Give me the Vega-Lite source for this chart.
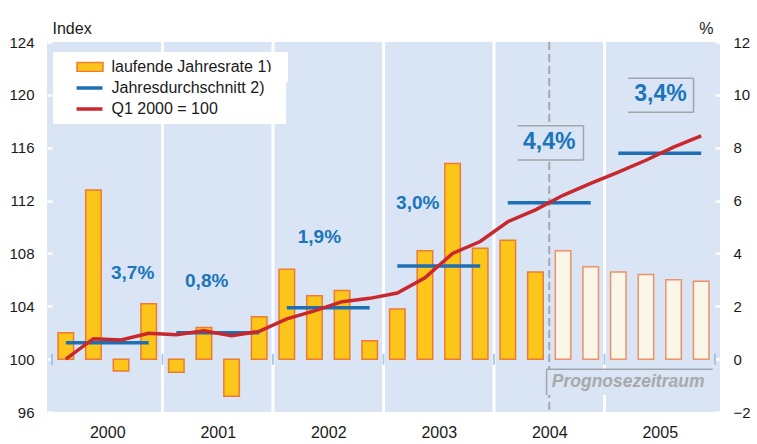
{
  "$schema": "https://vega.github.io/schema/vega-lite/v6.json",
  "width": 673,
  "height": 370,
  "autosize": {"type": "none"},
  "padding": {"left": 47, "top": 42, "right": 37, "bottom": 32},
  "config": {
    "font": "Liberation Sans",
    "view": {"stroke": null, "fill": "#d9e4f4"}
  },
  "datasets": {
    "quarters": [
      {"t": 2000.125, "rate": 1.0, "idx": 100.0, "fc": false},
      {"t": 2000.375, "rate": 6.4, "idx": 101.55, "fc": false},
      {"t": 2000.625, "rate": -0.45, "idx": 101.45, "fc": false},
      {"t": 2000.875, "rate": 2.1, "idx": 101.95, "fc": false},
      {"t": 2001.125, "rate": -0.5, "idx": 101.85, "fc": false},
      {"t": 2001.375, "rate": 1.2, "idx": 102.15, "fc": false},
      {"t": 2001.625, "rate": -1.4, "idx": 101.77, "fc": false},
      {"t": 2001.875, "rate": 1.6, "idx": 102.1, "fc": false},
      {"t": 2002.125, "rate": 3.4, "idx": 103.05, "fc": false},
      {"t": 2002.375, "rate": 2.4, "idx": 103.65, "fc": false},
      {"t": 2002.625, "rate": 2.6, "idx": 104.35, "fc": false},
      {"t": 2002.875, "rate": 0.7, "idx": 104.6, "fc": false},
      {"t": 2003.125, "rate": 1.9, "idx": 105.0, "fc": false},
      {"t": 2003.375, "rate": 4.1, "idx": 106.15, "fc": false},
      {"t": 2003.625, "rate": 7.4, "idx": 108.0, "fc": false},
      {"t": 2003.875, "rate": 4.2, "idx": 108.9, "fc": false},
      {"t": 2004.125, "rate": 4.5, "idx": 110.4, "fc": false},
      {"t": 2004.375, "rate": 3.3, "idx": 111.3, "fc": false},
      {"t": 2004.625, "rate": 4.1, "idx": 112.4, "fc": true},
      {"t": 2004.875, "rate": 3.5, "idx": 113.3, "fc": true},
      {"t": 2005.125, "rate": 3.3, "idx": 114.16, "fc": true},
      {"t": 2005.375, "rate": 3.2, "idx": 115.05, "fc": true},
      {"t": 2005.625, "rate": 3.0, "idx": 116.05, "fc": true},
      {"t": 2005.875, "rate": 2.95, "idx": 116.9, "fc": true}
    ],
    "years": [
      {"year": 2000, "avg": 101.24},
      {"year": 2001, "avg": 102.0},
      {"year": 2002, "avg": 103.89},
      {"year": 2003, "avg": 107.05},
      {"year": 2004, "avg": 111.84},
      {"year": 2005, "avg": 115.58}
    ],
    "boundaries": [
      {"b": 2001}, {"b": 2002}, {"b": 2003}, {"b": 2004}, {"b": 2005}
    ],
    "edges": [
      {"b": 2000}, {"b": 2001}, {"b": 2002}, {"b": 2003}, {"b": 2004}, {"b": 2005}, {"b": 2006}
    ],
    "boxes": [
      {"x1": 2004.214, "x2": 2004.81, "y1": 115.07, "y2": 117.67},
      {"x1": 2005.214, "x2": 2005.806, "y1": 118.68, "y2": 121.26},
      {"x1": 2004.476, "x2": 2005.98, "y1": 97.28, "y2": 99.23}
    ],
    "borders": [
      {"x1": 2004.214, "x2": 2004.81, "y1": 117.67, "y2": 117.67},
      {"x1": 2004.81, "x2": 2004.81, "y1": 117.67, "y2": 115.07},
      {"x1": 2004.214, "x2": 2004.81, "y1": 115.07, "y2": 115.07},
      {"x1": 2005.214, "x2": 2005.806, "y1": 121.26, "y2": 121.26},
      {"x1": 2005.806, "x2": 2005.806, "y1": 121.26, "y2": 118.68},
      {"x1": 2005.214, "x2": 2005.806, "y1": 118.68, "y2": 118.68},
      {"x1": 2004.476, "x2": 2005.98, "y1": 99.23, "y2": 99.23},
      {"x1": 2004.476, "x2": 2004.476, "y1": 99.23, "y2": 97.28}
    ],
    "smallLabels": [
      {"label": "3,7%", "x": 2000.73, "y": 106.54},
      {"label": "0,8%", "x": 2001.4, "y": 105.93},
      {"label": "1,9%", "x": 2002.42, "y": 109.22},
      {"label": "3,0%", "x": 2003.31, "y": 111.79}
    ],
    "bigLabels": [
      {"label": "4,4%", "x": 2004.5, "y": 116.4},
      {"label": "3,4%", "x": 2005.506, "y": 120.05}
    ],
    "note": [
      {"label": "Prognosezeitraum", "x": 2005.214, "y": 98.29}
    ]
  },
  "layer": [
    {
      "layer": [
        {
          "data": {"name": "boundaries"},
          "mark": {"type": "rule", "color": "white", "strokeWidth": 3},
          "encoding": {
            "x": {"field": "b", "type": "quantitative", "scale": {"domain": [2000, 2006], "nice": false, "zero": false}}
          }
        },
        {
          "data": {"values": [{"b": 2004.5}]},
          "mark": {"type": "rule", "color": "#a3a6aa", "strokeWidth": 2, "strokeDash": [8, 4]},
          "encoding": {
            "x": {"field": "b", "type": "quantitative"}
          }
        },
        {
          "data": {"name": "quarters"},
          "transform": [{"filter": "!datum.fc"}],
          "mark": {"type": "bar", "orient": "vertical", "width": 15.5, "stroke": "#f07a30", "strokeWidth": 1.5},
          "encoding": {
            "x": {"field": "t", "type": "quantitative"},
            "y": {
              "field": "rate", "type": "quantitative",
              "scale": {"domain": [-2, 12], "nice": false, "zero": false},
              "axis": {
                "orient": "right", "values": [-2, 0, 2, 4, 6, 8, 10, 12],
                "title": "%", "titleAngle": 0, "titleAlign": "right", "titleBaseline": "alphabetic",
                "titleX": -7, "titleY": -9, "titleFontWeight": "normal", "titleFontSize": 16, "titleColor": "#1a1a1a",
                "labelFontSize": 15, "labelColor": "#1a1a1a", "labelPadding": 18,
                "tickColor": "white", "tickSize": -5, "tickWidth": 2.5,
                "domain": false, "grid": false
              }
            },
            "fill": {
              "datum": "laufende Jahresrate 1)", "type": "nominal",
              "scale": {"domain": ["laufende Jahresrate 1)"], "range": ["#fcc51a"]},
              "legend": {
                "orient": "none", "legendX": 6, "legendY": 10,
                "title": "\u00a0", "titleOrient": "right", "titlePadding": 10, "titleFontSize": 16,
                "fillColor": "white", "padding": 6.5,
                "labelFont": "Liberation Sans", "labelFontSize": 16, "labelColor": "#1a1a1a", "labelLimit": 400,
                "symbolSize": 225, "symbolOffset": 22, "labelOffset": 13,
                "symbolType": "M-1.73,-0.6H1.73V0.6H-1.73Z",
                "symbolStrokeColor": "#f07a30", "symbolStrokeWidth": 1.5, "symbolOpacity": 1
              }
            }
          }
        },
        {
          "data": {"name": "quarters"},
          "transform": [{"filter": "datum.fc"}],
          "mark": {"type": "bar", "orient": "vertical", "width": 15.5, "fill": "#faf7e8", "stroke": "#f0906a", "strokeWidth": 1.5},
          "encoding": {
            "x": {"field": "t", "type": "quantitative"},
            "y": {"field": "rate", "type": "quantitative"}
          }
        },
        {
          "mark": {"type": "rule", "color": "#8fb3dc", "strokeWidth": 2.5},
          "encoding": {
            "y": {"datum": 0, "type": "quantitative"}
          }
        },
        {
          "data": {"name": "edges"},
          "mark": {"type": "tick", "orient": "vertical", "color": "#8fb3dc", "size": 11, "thickness": 2},
          "encoding": {
            "x": {"field": "b", "type": "quantitative"},
            "y": {"datum": 0, "type": "quantitative"}
          }
        }
      ]
    },
    {
      "layer": [
        {
          "data": {"name": "years"},
          "transform": [
            {"calculate": "datum.year + 0.125", "as": "start"},
            {"calculate": "datum.year + 0.875", "as": "end"}
          ],
          "mark": {"type": "rule", "strokeWidth": 3.5},
          "encoding": {
            "x": {"field": "start", "type": "quantitative"},
            "x2": {"field": "end"},
            "y": {"field": "avg", "type": "quantitative", "scale": {"domain": [96, 124], "nice": false, "zero": false}},
            "stroke": {"datum": "Jahresdurchschnitt 2)", "type": "nominal"}
          }
        },
        {
          "data": {"name": "quarters"},
          "mark": {"type": "line", "strokeWidth": 3.5},
          "encoding": {
            "x": {
              "field": "t", "type": "quantitative",
              "axis": {
                "orient": "bottom", "values": [2000.5, 2001.5, 2002.5, 2003.5, 2004.5, 2005.5],
                "labelExpr": "'' + floor(datum.value)", "title": null,
                "labelFontSize": 16, "labelColor": "#1a1a1a", "labelPadding": 12,
                "ticks": false, "domain": false, "grid": false
              }
            },
            "y": {
              "field": "idx", "type": "quantitative",
              "axis": {
                "orient": "left", "values": [96, 100, 104, 108, 112, 116, 120, 124],
                "title": "Index", "titleAngle": 0, "titleAlign": "left", "titleBaseline": "alphabetic",
                "titleX": 5, "titleY": -9, "titleFontWeight": "normal", "titleFontSize": 16, "titleColor": "#1a1a1a",
                "labelFontSize": 15, "labelColor": "#1a1a1a", "labelPadding": 18,
                "tickColor": "white", "tickSize": -5, "tickWidth": 2.5,
                "domain": false, "grid": false
              }
            },
            "stroke": {
              "datum": "\u00a0Q1 2000 = 100", "type": "nominal",
              "scale": {"domain": ["Jahresdurchschnitt 2)", "\u00a0Q1 2000 = 100"], "range": ["#1f6fb5", "#c8282d"]},
              "legend": {
                "orient": "none", "legendX": 6, "legendY": 30,
                "title": "\u00a0", "titleOrient": "right", "titlePadding": 15, "titleFontSize": 16,
                "fillColor": "white", "padding": 6.5, "rowPadding": 3,
                "labelFont": "Liberation Sans", "labelFontSize": 16, "labelColor": "#1a1a1a", "labelLimit": 400,
                "symbolSize": 225, "symbolOffset": 20.5, "labelOffset": 12.5,
                "symbolType": "M-1.73,0H1.73", "symbolStrokeWidth": 3.5, "symbolOpacity": 1
              }
            }
          }
        },
        {
          "data": {"name": "boxes"},
          "mark": {"type": "rect", "fill": "#d9e4f4"},
          "encoding": {
            "x": {"field": "x1", "type": "quantitative"},
            "x2": {"field": "x2"},
            "y": {"field": "y1", "type": "quantitative"},
            "y2": {"field": "y2"}
          }
        },
        {
          "data": {"name": "borders"},
          "mark": {"type": "rule", "color": "#a0a5ab", "strokeWidth": 1.5},
          "encoding": {
            "x": {"field": "x1", "type": "quantitative"},
            "x2": {"field": "x2"},
            "y": {"field": "y1", "type": "quantitative"},
            "y2": {"field": "y2"}
          }
        },
        {
          "data": {"name": "smallLabels"},
          "mark": {"type": "text", "fontSize": 19, "fontWeight": "bold", "color": "#1a75bb", "baseline": "middle", "align": "center"},
          "encoding": {
            "x": {"field": "x", "type": "quantitative"},
            "y": {"field": "y", "type": "quantitative"},
            "text": {"field": "label"}
          }
        },
        {
          "data": {"name": "bigLabels"},
          "mark": {"type": "text", "fontSize": 23, "fontWeight": "bold", "color": "#1a75bb", "baseline": "middle", "align": "center"},
          "encoding": {
            "x": {"field": "x", "type": "quantitative"},
            "y": {"field": "y", "type": "quantitative"},
            "text": {"field": "label"}
          }
        },
        {
          "data": {"name": "note"},
          "mark": {"type": "text", "fontSize": 17.5, "fontWeight": "bold", "fontStyle": "italic", "color": "#a9a9a9", "baseline": "middle", "align": "center"},
          "encoding": {
            "x": {"field": "x", "type": "quantitative"},
            "y": {"field": "y", "type": "quantitative"},
            "text": {"field": "label"}
          }
        }
      ]
    }
  ],
  "resolve": {"scale": {"y": "independent"}}
}
